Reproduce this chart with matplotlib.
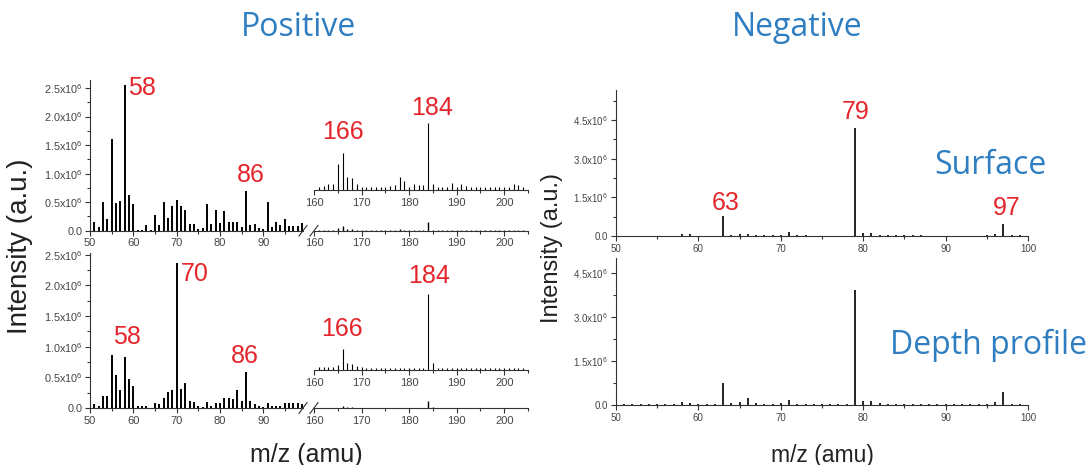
import matplotlib
matplotlib.use("Agg")
import matplotlib.pyplot as plt
from matplotlib.ticker import MultipleLocator, FuncFormatter

# Spectra data (intensity in units of 1e6 counts, inset ranges in 1e3 counts)
mz_low = list(range(51, 100))
pos_surface = [0.16, 0.07, 0.50, 0.20, 1.61, 0.49, 0.52, 2.56, 0.63, 0.47,
               0.02, 0.02, 0.10, 0.01, 0.28, 0.10, 0.50, 0.23, 0.43, 0.54,
               0.43, 0.36, 0.12, 0.12, 0.03, 0.05, 0.47, 0.12, 0.36, 0.14,
               0.35, 0.16, 0.15, 0.16, 0.07, 0.70, 0.10, 0.11, 0.04, 0.03,
               0.50, 0.07, 0.15, 0.10, 0.20, 0.09, 0.09, 0.08, 0.13]
pos_depth = [0.07, 0.04, 0.19, 0.19, 0.86, 0.54, 0.30, 0.84, 0.47, 0.36,
             0.04, 0.03, 0.03, 0.00, 0.08, 0.06, 0.16, 0.26, 0.30, 2.36,
             0.31, 0.41, 0.12, 0.10, 0.03, 0.01, 0.09, 0.03, 0.08, 0.08,
             0.16, 0.16, 0.14, 0.30, 0.11, 0.59, 0.12, 0.07, 0.03, 0.01,
             0.08, 0.03, 0.04, 0.04, 0.08, 0.08, 0.08, 0.08, 0.06]

mz_high = list(range(161, 205))
pos_surface_hi = [7, 9, 12, 12, 56, 80, 29, 25, 13, 7,
                  7, 6, 6, 7, 6, 9, 10, 28, 20, 6,
                  12, 10, 10, 145, 13, 6, 6, 6, 16, 7,
                  12, 9, 7, 6, 6, 6, 7, 6, 6, 7,
                  7, 12, 10, 6]
pos_depth_hi = [5, 5, 5, 5, 7, 30, 10, 9, 6, 4,
                3, 3, 3, 3, 3, 3, 3, 3, 3, 3,
                3, 3, 3, 110, 10, 2.5, 2.5, 2.5, 2.5, 2.5,
                2.5, 2.5, 2.5, 2.5, 2.5, 2.5, 2.5, 2.5, 2.5, 2.5,
                2.5, 2.5, 2.5, 2.5]

neg_surface = [0, 0, 0, 0, 0, 0, 0, 0.09, 0.09, 0,
               0, 0, 0.76, 0.05, 0.08, 0.08, 0.04, 0.04, 0.04, 0.04,
               0.15, 0.03, 0.04, 0, 0, 0, 0, 0, 4.17, 0.13,
               0.13, 0.04, 0.04, 0.04, 0.03, 0.03, 0.03, 0, 0, 0,
               0, 0, 0, 0, 0.04, 0.09, 0.48, 0.04, 0.03]
neg_depth = [0.03, 0.03, 0.03, 0.03, 0.03, 0.03, 0.03, 0.09, 0.08, 0.04,
             0.03, 0.04, 0.74, 0.06, 0.11, 0.23, 0.06, 0.05, 0.05, 0.07,
             0.17, 0.05, 0.05, 0.04, 0.03, 0.03, 0.03, 0.03, 3.92, 0.14,
             0.15, 0.06, 0.04, 0.05, 0.04, 0.03, 0.03, 0.03, 0.03, 0.03,
             0.03, 0.03, 0.03, 0.03, 0.05, 0.09, 0.45, 0.05, 0.03]

W, H = 1091, 465
RED = "#E4262C"
BLUE = "#2E7EC1"
TICKC = "#444444"

plt.rcParams["font.family"] = ["Liberation Sans", "DejaVu Sans"]
plt.rcParams["mathtext.fontset"] = "custom"
plt.rcParams["mathtext.rm"] = "Liberation Sans"

fig = plt.figure(figsize=(W / 100, H / 100), dpi=100)


def rect(x0, y0, x1, y1):
    # pixel box (top-left origin) -> figure fraction
    return [x0 / W, 1 - y1 / H, (x1 - x0) / W, (y1 - y0) / H]


def sci(v, pos):
    if abs(v) < 1e-9:
        return "0.0"
    return f"{v / 1e6:.1f}x10$^{{6}}$"


def style(ax, ysize, xsize, left=True, xmajor=10, xminor=5):
    for s in ["top", "right"]:
        ax.spines[s].set_visible(False)
    ax.spines["bottom"].set_color("#333333")
    ax.spines["left"].set_color("#333333")
    ax.spines["left"].set_visible(left)
    ax.xaxis.set_major_locator(MultipleLocator(xmajor))
    ax.xaxis.set_minor_locator(MultipleLocator(xminor))
    ax.tick_params(axis="x", which="major", length=3.5, width=0.8,
                   labelsize=xsize, colors="#333333", labelcolor=TICKC, pad=2)
    ax.tick_params(axis="x", which="minor", length=2, width=0.8, colors="#333333")
    if left:
        ax.tick_params(axis="y", which="major", length=3.5, width=0.8,
                       labelsize=ysize, colors="#333333", labelcolor=TICKC, pad=2)
        ax.tick_params(axis="y", which="minor", length=2, width=0.8, colors="#333333")
        ax.yaxis.set_major_formatter(FuncFormatter(sci))
    else:
        ax.set_yticks([])
    ax.patch.set_alpha(0)


def break_marks(ax, side):
    d = 4 / 213
    x = 1 if side == "right" else 0
    ax.plot([x - d, x + d], [-0.035, 0.035], transform=ax.transAxes,
            color="#333333", lw=0.8, clip_on=False)


def positive_panel(y_top, y_base, ylim, low, high, ins_top, ins_ylim, labels, ins_labels):
    ax = fig.add_axes(rect(90, y_top, 303, y_base))
    ax.vlines(mz_low, 0, [v * 1e6 for v in low], colors="k", lw=1.4)
    ax.set_xlim(50, 99.2)
    ax.set_ylim(0, ylim)
    ax.yaxis.set_major_locator(MultipleLocator(0.5e6))
    ax.yaxis.set_minor_locator(MultipleLocator(0.25e6))
    style(ax, 7.8, 8)
    break_marks(ax, "right")

    axr = fig.add_axes(rect(314, y_top, 528, y_base))
    axr.vlines(mz_high, 0, [v * 1e3 for v in high], colors="k", lw=1.0)
    axr.set_xlim(160, 205)
    axr.set_ylim(0, ylim)
    style(axr, 7.8, 8, left=False)
    break_marks(axr, "left")

    axi = fig.add_axes(rect(314, ins_top, 528, ins_top + 95))
    axi.vlines(mz_high, 0, [v * 1e3 for v in high], colors="k", lw=0.8)
    axi.set_xlim(160, 205)
    axi.set_ylim(0, ins_ylim)
    style(axi, 7.8, 8, left=False)

    for txt, x, y in labels:
        ax.text(x, y * 1e6, txt, color=RED, fontsize=18, ha="center", va="center")
    for txt, x, y in ins_labels:
        axi.text(x, y * 1e3, txt, color=RED, fontsize=18, ha="center", va="center",
                 clip_on=False)
    return ax


positive_panel(80, 230.7, 2.64e6, pos_surface, pos_surface_hi, 95, 0.2056e6,
               [("58", 61.9, 2.50), ("86", 87.2, 0.975)],
               [("166", 166.1, 126), ("184", 184.8, 178.5)])
positive_panel(253, 408, 2.53e6, pos_depth, pos_depth_hi, 275, 0.138e6,
               [("70", 74.2, 2.19), ("58", 58.5, 1.16), ("86", 85.8, 0.85)],
               [("166", 165.9, 59.6), ("184", 184.2, 136.6)])


def negative_panel(y_top, y_base, ylim, vals, labels):
    ax = fig.add_axes(rect(616, y_top, 1028, y_base))
    ax.vlines(mz_low, 0, [v * 1e6 for v in vals], colors="k", lw=1.2)
    ax.set_xlim(50, 100)
    ax.set_ylim(0, ylim)
    ax.yaxis.set_major_locator(MultipleLocator(1.5e6))
    ax.yaxis.set_minor_locator(MultipleLocator(0.75e6))
    style(ax, 7, 7)
    for txt, x, y in labels:
        ax.text(x, y * 1e6, txt, color=RED, fontsize=18, ha="center", va="center")
    return ax


negative_panel(90, 236, 5.66e6, neg_surface,
               [("63", 63.3, 1.26), ("79", 79.1, 4.79), ("97", 97.4, 1.09)])
negative_panel(258, 405, 5.01e6, neg_depth, [])

# titles and axis labels
for txt, x, y in [("Positive", 298, 27), ("Negative", 797, 27),
                  ("Surface", 990, 165), ("Depth profile", 988, 345)]:
    fig.text(x / W, 1 - y / H, txt, color=BLUE, fontsize=23,
             family="Open Sans", ha="center", va="center")

fig.text(20 / W, 1 - 246 / H, "Intensity (a.u.)", rotation=90, fontsize=20,
         ha="center", va="center", color="#222222")
fig.text(552 / W, 1 - 248 / H, "Intensity (a.u.)", rotation=90, fontsize=17,
         ha="center", va="center", color="#222222")
fig.text(306 / W, 1 - 455 / H, "m/z (amu)", fontsize=18,
         ha="center", va="center", color="#222222")
fig.text(822 / W, 1 - 455 / H, "m/z (amu)", fontsize=16.5,
         ha="center", va="center", color="#222222")

fig.savefig("out.png", dpi=100)
